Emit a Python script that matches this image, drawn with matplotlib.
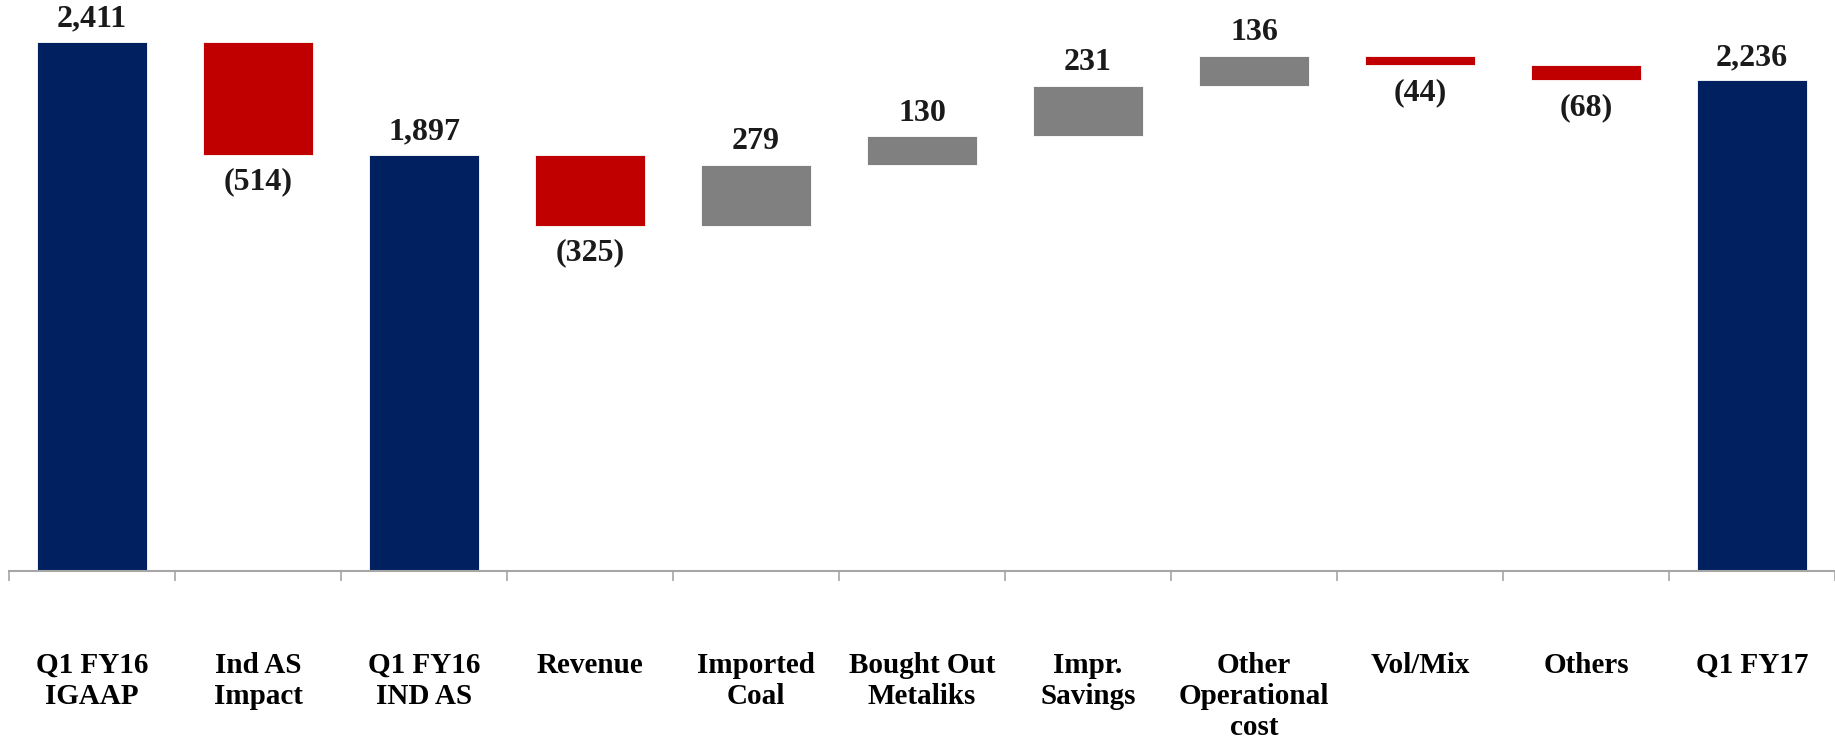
import matplotlib
matplotlib.use("Agg")
import matplotlib.pyplot as plt
import numpy as np

# Waterfall data: bridge from Q1 FY16 (IGAAP) to Q1 FY17
categories = ["Q1 FY16\nIGAAP", "Ind AS\nImpact", "Q1 FY16\nIND AS", "Revenue", "Imported\nCoal",
              "Bought Out\nMetaliks", "Impr.\nSavings", "Other\nOperational\ncost", "Vol/Mix", "Others",
              "Q1 FY17"]
values = [2411, -514, 1897, -325, 279, 130, 231, 136, -44, -68, 2236]
is_total = [True, False, True, False, False, False, False, False, False, False, True]

NAVY = "#002060"
RED = "#C00000"
GREY = "#808080"

plt.rcParams["font.family"] = ["Liberation Serif", "DejaVu Serif"]
plt.rcParams["font.weight"] = "bold"

fig = plt.figure(figsize=(18.35, 7.38), dpi=100)
ax = fig.add_axes([9 / 1835, 167 / 738, 1 - 9 / 1835, 571 / 738])

x = np.arange(len(categories))
running = 0
for i, (val, total) in enumerate(zip(values, is_total)):
    if total:
        bottom, height, color = 0, val, NAVY
        running = val
    else:
        bottom = running if val >= 0 else running + val
        height = abs(val)
        color = GREY if val >= 0 else RED
        running += val
    ax.bar(x[i], height, bottom=bottom, width=0.66, color=color, edgecolor="white", linewidth=0.6)
    text = "{:,}".format(val) if val >= 0 else "({:,})".format(-val)
    if val >= 0:
        ax.annotate(text, (x[i], bottom + height), xytext=(0, 6), textcoords="offset points",
                    ha="center", va="bottom", fontsize=23, fontweight="bold", color="#1a1a1a")
    else:
        ax.annotate(text, (x[i], bottom), xytext=(0, -9), textcoords="offset points",
                    ha="center", va="top", fontsize=23, fontweight="bold", color="#1a1a1a")

ax.set_xlim(-0.5, len(categories) - 0.5)
ax.set_ylim(0, 2602)

for side in ["top", "right", "left"]:
    ax.spines[side].set_visible(False)
ax.spines["bottom"].set_color("#a6a6a6")
ax.spines["bottom"].set_linewidth(1.5)
ax.set_yticks([])

ax.set_xticks(x)
ax.set_xticklabels(categories, fontsize=21, fontweight="bold", linespacing=1.2)
ax.tick_params(axis="x", which="major", length=0, pad=58)
ax.set_xticks(np.arange(-0.5, len(categories), 1.0), minor=True)
ax.tick_params(axis="x", which="minor", length=7, width=1.2, color="#a6a6a6", direction="out")

fig.savefig("out.png", dpi=100)
